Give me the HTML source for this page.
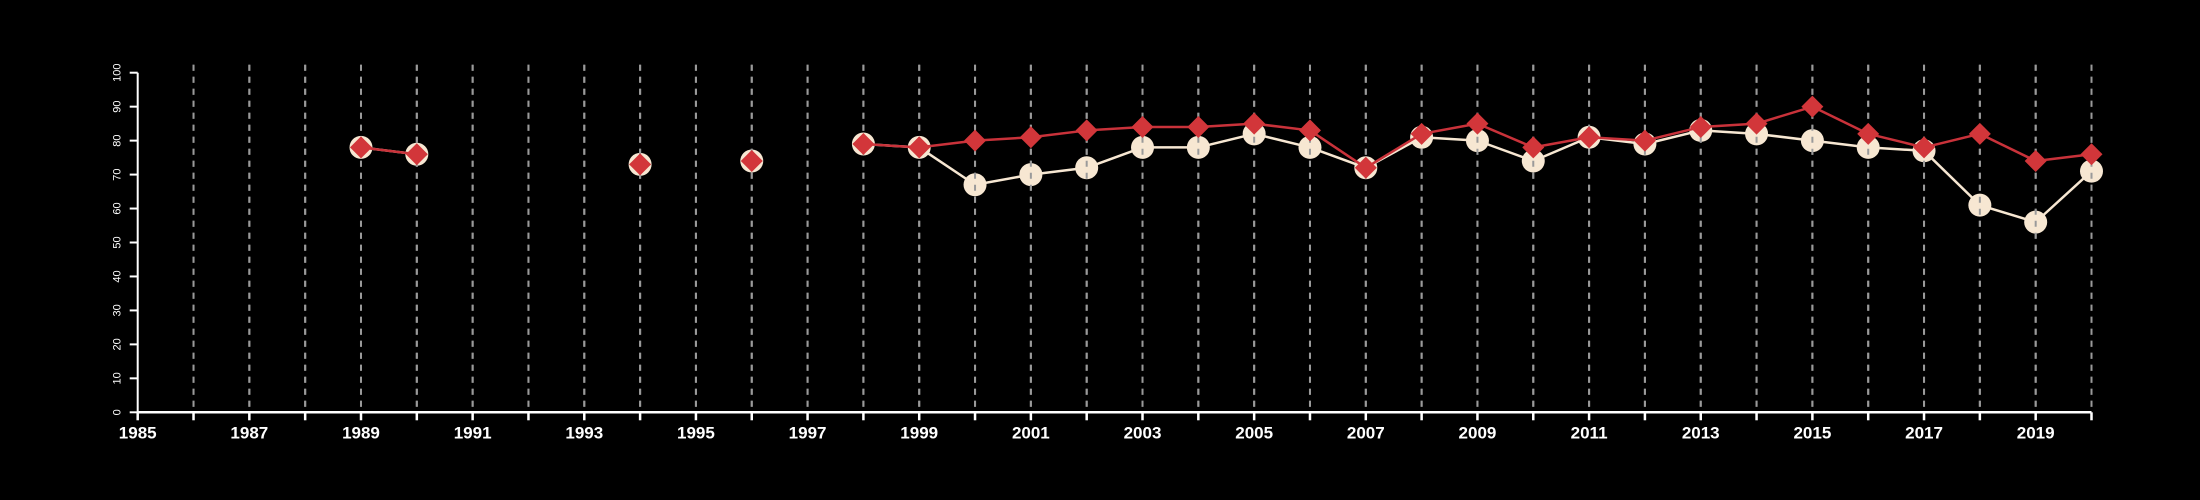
<!DOCTYPE html>
<html><head><meta charset="utf-8"><style>
html,body{margin:0;padding:0;background:#000;}
svg{display:block;font-family:"Liberation Sans",sans-serif;}
</style></head><body>
<svg id="chart" width="2200" height="500" viewBox="0 0 2200 500" xmlns="http://www.w3.org/2000/svg">
<rect width="2200" height="500" fill="#000"/>
<g id="grid"></g>
<g id="axes"></g>
<g id="s1"></g>
<g id="grid2"></g>
<g id="s2"></g>
</svg>
<script>
const years = [1989,1990,1994,1996,1998,1999,2000,2001,2002,2003,2004,2005,2006,2007,2008,2009,2010,2011,2012,2013,2014,2015,2016,2017,2018,2019,2020];
const circleValues = [78,76,73,74,79,78,67,70,72,78,78,82,78,72,81,80,74,81,79,83,82,80,78,77,61,56,71];
const diamondValues = [78,76,73,74,79,78,80,81,83,84,84,85,83,72,82,85,78,81,80,84,85,90,82,78,82,74,76];
const yTicks = [0,10,20,30,40,50,60,70,80,90,100];
const xMin = 1985, xMax = 2020;

const NS = "http://www.w3.org/2000/svg";
const X0 = 137.7, X1 = 2091.5, Y0 = 412.3, Y1 = 72.7;
function xs(v){ return X0 + (v - xMin) / (xMax - xMin) * (X1 - X0); }
function ys(v){ return Y0 - v / 100 * (Y0 - Y1); }
function mk(tag, attrs, parent){
  const e = document.createElementNS(NS, tag);
  for (const k in attrs) e.setAttribute(k, attrs[k]);
  parent.appendChild(e);
  return e;
}
const grid = document.getElementById('grid');
const grid2 = document.getElementById('grid2');
const axes = document.getElementById('axes');
for (let yr = xMin + 1; yr <= xMax; yr++) {
  for (const g of [grid, grid2]) {
    const l = mk('line', {x1: xs(yr), x2: xs(yr), y1: Y1 - 8, y2: Y0, stroke: '#9a9a9a', 'stroke-width': 2, 'stroke-dasharray': '6,6'}, g);
    
    
  }
}
// y axis
let a = mk('line', {x1: X0, x2: X0, y1: Y1, y2: Y0, stroke: '#fff', 'stroke-width': 2}, axes);


yTicks.forEach(t => {
  const tk = mk('line', {x1: X0 - 8, x2: X0, y1: ys(t), y2: ys(t), stroke: '#fff', 'stroke-width': 2}, axes);
  
  
  const tx = mk('text', {x: 0, y: 0, fill: '#fff', 'font-size': 11, 'text-anchor': 'middle', transform: `translate(${X0 - 20},${ys(t)}) rotate(-90)`, 'dominant-baseline': 'central'}, axes);
  tx.textContent = t;
  
  
});
// x axis
a = mk('line', {x1: X0, x2: X1, y1: Y0, y2: Y0, stroke: '#fff', 'stroke-width': 2.5}, axes);


for (let yr = xMin; yr <= xMax; yr++) {
  const tk = mk('line', {x1: xs(yr), x2: xs(yr), y1: Y0, y2: Y0 + 8, stroke: '#fff', 'stroke-width': 2.5}, axes);
  
  
  if ((yr - xMin) % 2 === 0) {
    const tx = mk('text', {x: xs(yr), y: Y0 + 26, fill: '#fff', 'font-size': 17, 'font-weight': 'bold', 'text-anchor': 'middle'}, axes);
    tx.textContent = yr;
    
    
  }
}
function drawLines(g, vals, color){
  for (let i = 1; i < years.length; i++) {
    if (years[i] - years[i-1] === 1) {
      const l = mk('line', {x1: xs(years[i-1]), y1: ys(vals[i-1]), x2: xs(years[i]), y2: ys(vals[i]), stroke: color, 'stroke-width': 2.5}, g);
      
      
    }
  }
}
const s1 = document.getElementById('s1');
const s2 = document.getElementById('s2');
drawLines(s1, circleValues, '#f7e7d2');
years.forEach((yr, i) => {
  const c = mk('circle', {cx: xs(yr), cy: ys(circleValues[i]), r: 11.5, fill: '#f7e7d2'}, s1);
  
  
});
drawLines(s2, diamondValues, '#c9323a');
years.forEach((yr, i) => {
  const x = xs(yr), y = ys(diamondValues[i]), d = 11;
  const p = mk('polygon', {points: `${x},${y-d} ${x+d},${y} ${x},${y+d} ${x-d},${y}`, fill: '#d2363a'}, s2);
  
  
});
</script>
</body></html>
